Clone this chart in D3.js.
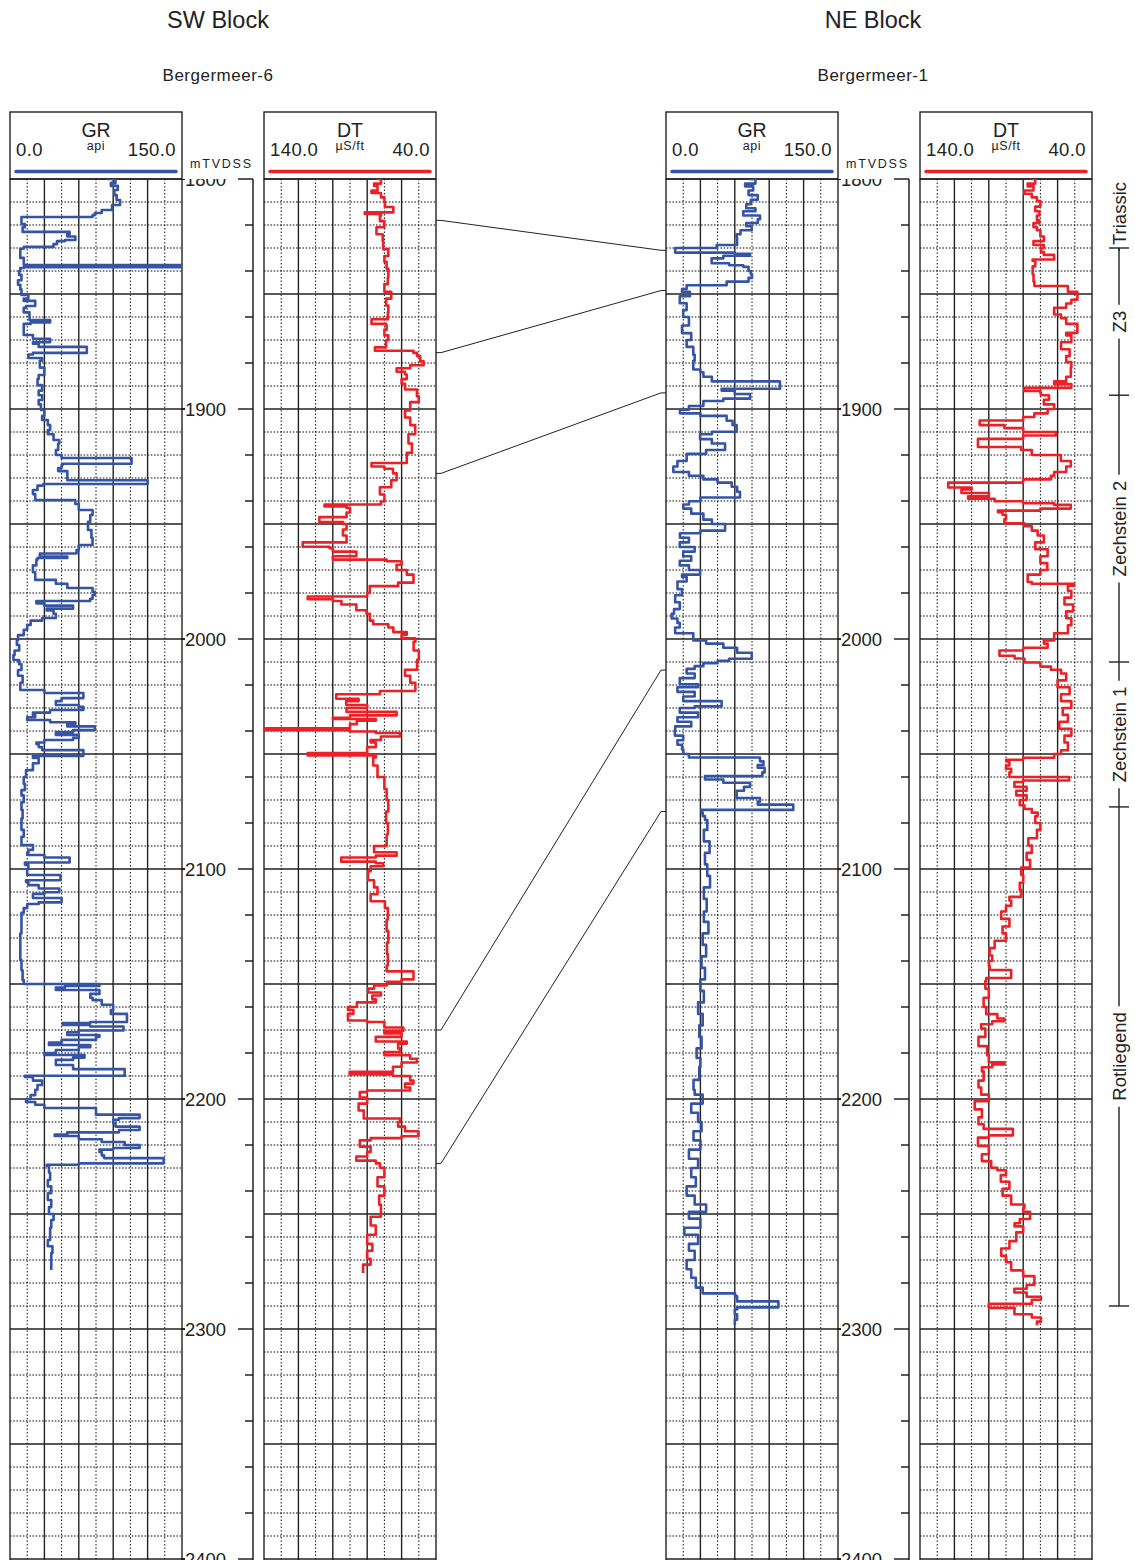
<!DOCTYPE html>
<html>
<head>
<meta charset="utf-8">
<script src="https://cdn.jsdelivr.net/npm/d3@7"></script>
<style>
  body { margin: 0; background: #fff; }
  svg { display: block; font-family: "Liberation Sans", Arial, sans-serif; }
</style>
</head>
<body>
<svg id="chart" width="1135" height="1560"></svg>
<script>
// ---- data: [depth mTVDSS, value] ----
var swGR = [[1800,85],[1801.7,92],[1803,88],[1804.8,94],[1807,91],[1809.1,93],[1811.3,96],[1813.5,89],[1814.8,80],[1815.7,74],[1816.5,72],[1817,10],[1819.6,10],[1821,13],[1823,11],[1823.9,52],[1825,50],[1826.5,57],[1827,48],[1828.3,41],[1829.5,38],[1830.3,12],[1832,9],[1834.3,9],[1836,12],[1837.4,12],[1837.6,150],[1838.4,150],[1838.7,12],[1840,9],[1841.7,8],[1844,10],[1846,7],[1848,9],[1850.4,10],[1852,16],[1853,12],[1855.2,22],[1856,14],[1858,12],[1861.3,17],[1862.4,35],[1863,18],[1865,12],[1867.8,12],[1869.5,20],[1871,35],[1871.6,20],[1873,25],[1874.8,67],[1875.6,67],[1876.3,20],[1877.8,16],[1879,28],[1882,26],[1885.2,30],[1887,25],[1889.6,24],[1892,28],[1894,25],[1896.1,28],[1898,25],[1900.4,27],[1903,30],[1904.8,28],[1907,33],[1909.1,35],[1911,33],[1913.5,38],[1915,43],[1917.8,42],[1920,40],[1921.3,45],[1923,106],[1923.8,106],[1924.3,46],[1925.7,45],[1927,42],[1928.7,50],[1931,50],[1931.8,120],[1932.6,120],[1933.3,29],[1935.2,24],[1937,20],[1939.6,22],[1941.3,57],[1943.9,60],[1946.1,72],[1949,70],[1952.6,68],[1956,71],[1959.1,72],[1961.3,60],[1962.8,58],[1963.3,26],[1964.2,26],[1964.8,50],[1965.5,24],[1968,23],[1971,20],[1974.3,22],[1976,40],[1977.8,50],[1979.5,72],[1980.9,74],[1982.5,72],[1983.5,70],[1984.5,23],[1985.5,30],[1986.8,55],[1987.6,32],[1989,38],[1990.9,40],[1992,28],[1993.9,18],[1996,15],[1998.3,12],[2000.5,7],[2002.6,6],[2005,8],[2007,4],[2009.1,3],[2011,8],[2013.5,10],[2016,7],[2019,11],[2022.2,9],[2023.5,30],[2025.7,64],[2027,45],[2028.7,40],[2029.5,60],[2030.9,64],[2032,35],[2033,20],[2034,22],[2035.2,15],[2036.2,35],[2037,57],[2038,50],[2039.6,74],[2040.5,55],[2041.7,40],[2043,60],[2043.9,55],[2045,30],[2045.7,23],[2047,25],[2048.3,28],[2050,64],[2050.8,64],[2051.7,20],[2054,25],[2057,20],[2060,14],[2063,12],[2065.7,13],[2068,10],[2071,12],[2074.3,10],[2078,11],[2083,10],[2086,12],[2089.6,10],[2091.7,20],[2093,16],[2093.9,15],[2095,30],[2096.5,52],[2097.2,52],[2098.2,13],[2100,16],[2102.6,15],[2104.2,44],[2104.9,44],[2105.6,14],[2107,16],[2108.5,25],[2110.1,43],[2110.8,30],[2112.6,20],[2114.5,45],[2115.2,25],[2117,15],[2119,12],[2122.2,10],[2128,10],[2134,9],[2139.6,9],[2144,10],[2148.3,11],[2150,12],[2150.9,78],[2151.5,48],[2152.6,40],[2153.2,78],[2154.3,78],[2156,70],[2157,72],[2159,80],[2161.3,90],[2163,88],[2166.5,102],[2167,70],[2167.8,46],[2168.5,70],[2169.5,99],[2170.2,99],[2171,60],[2172.2,50],[2173,78],[2174.3,75],[2175.5,45],[2176.5,34],[2177.5,70],[2178.7,60],[2180,40],[2180.9,30],[2182,65],[2183,55],[2185.2,40],[2187,55],[2189.3,100],[2189.9,100],[2190.4,13],[2192,20],[2193.9,28],[2196,24],[2198.3,22],[2200,18],[2201.3,14],[2202.5,22],[2203.9,30],[2205.7,75],[2206.8,75],[2208.3,113],[2209,95],[2210.4,90],[2212,92],[2213.5,113],[2214.5,95],[2215.5,50],[2216.1,39],[2217.5,60],[2218.7,80],[2220,100],[2221.3,113],[2222,90],[2223,78],[2224.5,80],[2225.7,82],[2227.5,134],[2228,134],[2228.6,60],[2229.1,32],[2232,34],[2235.2,35],[2238,33],[2241,36],[2243.9,33],[2247,36],[2250,34],[2252.6,38],[2256,36],[2261.3,35],[2264,33],[2267,37],[2270,36],[2274.3,36]];

var swDT = [[1800,75],[1802,72],[1803,76],[1805,74],[1806.1,77.5],[1808,72],[1810,70],[1812.2,69.7],[1813.7,64.8],[1814.5,64.8],[1815.2,81.4],[1816,72],[1818.3,72.6],[1821,70],[1824,74.6],[1827,71],[1830.5,70.7],[1833.5,67.7],[1836,70],[1839,68.7],[1842.7,67.7],[1845.7,68],[1849,70],[1852,66],[1855,69],[1858,67.7],[1861,68],[1862,77.5],[1863,77.5],[1863.6,69],[1865.5,68.7],[1868,70],[1870,67.7],[1873.2,69],[1874.7,75.5],[1875.6,53.1],[1877,51],[1879.3,49.2],[1881,47.2],[1882.3,55],[1883.8,62.9],[1885,58],[1887,57],[1889,60],[1891.5,58],[1893,51],[1894.5,51.1],[1897,50],[1900.6,55],[1903.7,58],[1907,55],[1911,52.1],[1915,56],[1919,54],[1922,57],[1923.5,57],[1925,77.5],[1926,70],[1928,65],[1931,62.9],[1934,66],[1937.2,72.6],[1940.2,70],[1941.5,72],[1941.8,104.8],[1942.4,104.8],[1943,92],[1945,90],[1947,92],[1948.5,107.8],[1949.2,107.8],[1950,94],[1952.4,92],[1955,94.1],[1958,92],[1959.2,117.5],[1959.9,117.5],[1960.5,101.9],[1962,100],[1964,86.3],[1965.5,100],[1966.2,68.7],[1967.7,60],[1970,62.9],[1972,57],[1974.5,53.1],[1975.5,53.1],[1977,62],[1979.9,78.5],[1981.5,80],[1982,114.6],[1982.7,114.6],[1983.5,100],[1985,95],[1987.5,86.3],[1989,80.4],[1992,78.5],[1993.6,76.5],[1995,67.7],[1997,64.8],[1998.2,57],[1999.7,60],[2001.2,52],[2005,53],[2009,50],[2013.4,51],[2016,58],[2019,55],[2022.6,52],[2024,72.6],[2025.3,98],[2026,98],[2027,85],[2028.7,92.2],[2030,80],[2031.7,92],[2033.2,62.9],[2034.3,90],[2034.8,100],[2035.5,75],[2037,86],[2038.8,90],[2039.1,140],[2039.7,140],[2040.2,90.2],[2040.9,75],[2042.4,60.9],[2043.9,72],[2045,78],[2047,75],[2049.6,80],[2050,114.6],[2050.6,114.6],[2051.5,75],[2055,76.5],[2060,74],[2065.2,70],[2070,68.7],[2075,67.7],[2080,69],[2085,68],[2090,68.7],[2092.7,76],[2094.2,62.9],[2095,75],[2095.7,95.1],[2096.8,95.1],[2097.5,75],[2098.8,70.7],[2101,78],[2104.9,79.5],[2108,76],[2111,74],[2114,78],[2117,69.7],[2122,68],[2127,68.7],[2132,67.7],[2137,68.5],[2142,68],[2144.5,68.7],[2145,53.1],[2148,53.1],[2149,60],[2150.6,68.7],[2152,76],[2153.7,79.5],[2155,72],[2156.7,77],[2158,75],[2160,86],[2161.3,91.2],[2163,88],[2165.9,91.2],[2166.5,80],[2168.9,70],[2170.4,59],[2171.5,70],[2173,60],[2175,75],[2176,57],[2178,62],[2179.6,60.9],[2181,70],[2182.5,55],[2184.1,51.1],[2186,60],[2188.2,65],[2188.7,90.2],[2189.3,90.2],[2190,65],[2192,55],[2193.3,53.1],[2195,58],[2196.3,55],[2197,80],[2199.4,84.3],[2202,80],[2205,85],[2208.5,82],[2210,60.9],[2212,62],[2214,58],[2216.2,50.2],[2217,60],[2218,78],[2220.7,84.3],[2223,78],[2225,80],[2226.8,86.3],[2228,75],[2229.9,72.6],[2234,70],[2238,74],[2242,70],[2246,73],[2251.2,72],[2255,78],[2259,75],[2263,80],[2266,77],[2269.5,80],[2272,78],[2275.6,82.4]];

var neGR = [[1800,73],[1802,78],[1803.2,69],[1805,76],[1807,72],[1809,80],[1811,74],[1812.7,70],[1814,78],[1815.9,67.4],[1817.5,82],[1819.1,80],[1820.5,70],[1822.3,74.7],[1824,65],[1825.5,61.6],[1828.7,62],[1830,44.2],[1831.2,8],[1832,8],[1832.5,60],[1833.4,73.3],[1834.5,50],[1836.6,39.8],[1837.5,55],[1838.2,67.4],[1840,72],[1841.4,74],[1843,75],[1844.6,72],[1846.2,52.9],[1847.8,18],[1849,14],[1851,20.9],[1854,12],[1857,18],[1860,15],[1863.7,20],[1867,14],[1870,22],[1873,18],[1876.4,23.8],[1879,25],[1882.8,23.8],[1884,30],[1886,32.6],[1888,40],[1890.5,99.4],[1891.2,99.4],[1892,48.5],[1893.5,60],[1895.5,73.3],[1896.5,50],[1898.7,32.6],[1900.3,20],[1901.9,12.2],[1903,30],[1905.1,52.9],[1907,58],[1909.9,61.6],[1911,40],[1913.1,29.7],[1915,40],[1917.8,51.5],[1919.5,35],[1922.6,18],[1925,10],[1927.4,6.4],[1929,20],[1930.6,32.6],[1932,45],[1933.8,57.3],[1936,62],[1938.5,64.5],[1940.1,30],[1941.5,20],[1943.3,15.1],[1945.5,22],[1948.1,32.6],[1950,40],[1952.9,51.5],[1954,30],[1956,12.2],[1958,20],[1960,12],[1962,25],[1964,15],[1966,22],[1968,12],[1970,20],[1972,29.7],[1973,14],[1975,18],[1978.3,10],[1981,14],[1984,8],[1987,12],[1989,7],[1991.1,4.9],[1993,10],[1995,12],[1997.5,8],[2000.6,23.8],[2002,35],[2003.8,50],[2006,62],[2008.6,74.7],[2009.5,55],[2010.5,45],[2011.8,32.6],[2013,25],[2015,18],[2017,25],[2019.7,12],[2021,28],[2023,10],[2025,25],[2027,15],[2029.3,48.5],[2030,25],[2032,12],[2034,28],[2036,10],[2038,22],[2040,8],[2042,7.8],[2044,15],[2046,10],[2048,14],[2050,15.1],[2051.5,20],[2053.2,82],[2054.8,85],[2056,80],[2058,86],[2059.6,84],[2061.1,34],[2062.5,50],[2064.3,73.3],[2066,68],[2069.1,61.6],[2070.7,82],[2072,80],[2073.7,111],[2074.3,111],[2075.5,31.1],[2077,32],[2078.7,34],[2083,36],[2088,33],[2093,38],[2098,34],[2103,36],[2108,38.4],[2113,33],[2118.5,35.5],[2123,33],[2128,37],[2133,32],[2138,35],[2143,31],[2148,34],[2153,30],[2158,33],[2163,28],[2168,32],[2173,29],[2178,31],[2182.2,26.7],[2186,30],[2191.7,29],[2196,24],[2198.1,25],[2202,32],[2206,22],[2210,28],[2214,31],[2218,24],[2222,30],[2226,20],[2230,28],[2234,22],[2238,26],[2242,18],[2245.9,25],[2249,35],[2252,20],[2256,30],[2259,16],[2263,28],[2266,20],[2270,25],[2274,18],[2277.7,22],[2282,26],[2284.5,32],[2285.7,60.2],[2288,62],[2289.8,98],[2290.6,98],[2291.5,62],[2293.6,60],[2296,62],[2298.4,60]];

var neDT = [[1800,75.4],[1802,73],[1803.2,77.4],[1805,74],[1806.4,79.3],[1808,75],[1809.6,72],[1812,70],[1814,73],[1815.9,70.6],[1818,72],[1819.1,70.6],[1821,74],[1822.3,72],[1825,70],[1827,68],[1828.7,74],[1830,68],[1831.8,69.7],[1833,68],[1835,62],[1835.6,74.5],[1838,73],[1841.4,74.5],[1844.6,74],[1846.5,73.5],[1847.8,54],[1849,54],[1851,48.5],[1852.5,48.5],[1854.1,52],[1856,55],[1858.9,62],[1860.5,58],[1863,55],[1866.9,48.5],[1868,55],[1871,52],[1874,58],[1877,53],[1879.6,55],[1882,52],[1886,52.3],[1888,55],[1889.2,62],[1890.8,52],[1892.2,79.3],[1893,70],[1894,69.7],[1896,65],[1898,68],[1900,62],[1901.9,65.8],[1903.5,73.5],[1905,80],[1906.5,105.3],[1907,105.3],[1908.3,90.9],[1910,80],[1911.5,61],[1913,80],[1915.8,106.3],[1916.5,106.3],[1917.8,81.2],[1920,75],[1922.6,58.1],[1925,52.3],[1927.4,55],[1929,62],[1930.6,63.9],[1932,80],[1933.5,123.6],[1934.1,123.6],[1935,110],[1936.5,115.9],[1938,100],[1939,112],[1940.1,96.6],[1941,80],[1941.7,62],[1943.3,52.3],[1944.2,70],[1944.9,94.7],[1946,92],[1948,90],[1949.7,90.9],[1951,79.3],[1952.9,75],[1955,71.6],[1958,68],[1961,73],[1964,65.8],[1967,70],[1970,66],[1972,70],[1975.2,77.4],[1976,75],[1976.8,50.4],[1979,54],[1982,52],[1985,56],[1988,51],[1991,55],[1994,52],[1997.5,54],[2000.6,62],[2002,68],[2003.8,65.8],[2005,80],[2006.6,93.8],[2007.3,93.8],[2008.5,85],[2010.2,79.3],[2012,70],[2013.4,63.9],[2015,58],[2018,55],[2021,60],[2024,53],[2027,58],[2030,52],[2033,57],[2036,54],[2039,59],[2042,52],[2045,56],[2048.4,54],[2050,58],[2051.6,62],[2052.5,80],[2053.2,89.9],[2055,88],[2056.4,90],[2058,87],[2060,88],[2060.7,53.3],[2061.5,53.3],[2062.2,80],[2064.3,85.1],[2066,78],[2068,84],[2070,78],[2072.3,82],[2073.9,79.3],[2075.5,75],[2077.1,71.6],[2080,73],[2083,70],[2086.6,72],[2089.8,77],[2093,75],[2096,78],[2099.4,76],[2102.5,81.2],[2106,80],[2109,82],[2112.1,81.2],[2113.7,88],[2116,87],[2118.5,90],[2121.7,92.8],[2125,88],[2128,92],[2131.2,90],[2134.4,96.6],[2137.6,99.5],[2140,98],[2142,100],[2143.9,99.5],[2146.5,87],[2147.4,87],[2148.7,101.5],[2152,102],[2156,100],[2160,103],[2163.1,101.5],[2165,95],[2166.2,90.9],[2167.5,98],[2169.4,104.4],[2173,102],[2177,106],[2181,101],[2184,100],[2185,90.9],[2186.2,98],[2188,104],[2192,103],[2195,106],[2198.1,104.4],[2201,100],[2204.5,108.2],[2208,104],[2211,106],[2213,103],[2214.8,86],[2215.8,86],[2216.8,100],[2220.4,106.3],[2224,100],[2227,104],[2229.9,98.6],[2231,95],[2233.1,90],[2236,93],[2239,88],[2242,92],[2245.9,87],[2247.5,79.3],[2249,80],[2252.2,76],[2254,82],[2255.4,85],[2258,80],[2261.8,84],[2265,88],[2268.2,92.8],[2271,90],[2274.5,87],[2277,80],[2280.9,73.5],[2282.5,78],[2284.1,85.1],[2286,78],[2287.3,69.7],[2289,75],[2290,100],[2290.8,100],[2291.5,85],[2293.6,85.1],[2295,75],[2296.8,69.7],[2298.4,72]];

// correlation picks (SW depth -> NE depth)
var swPicks = [1818, 1875.5, 1928, 2170, 2228];
var nePicks = [1831, 1848.5, 1893, 2013.5, 2075];

// stratigraphy column (NE well)
var formationNames = ["Triassic", "Z3", "Zechstein 2", "Zechstein 1", "Rotliegend"];
var formationTops  = [1800, 1830, 1894, 2010, 2073];
var formationBases = [1830, 1894, 2010, 2073, 2290];

var depthDomain = [1800, 2400];
var grDomain = [0, 150];
var dtDomain = [140, 40];

// ---- layout ----
var svg = d3.select("#chart");
var BLUE = "#3554a6", RED = "#ec2027", INK = "#222";
var trackW = 172, headTop = 112, trackTop = 179;
var y = d3.scaleLinear().domain(depthDomain).range([trackTop, 1559]);

var wells = [
  {block: "SW Block", name: "Bergermeer-6", cx: 218, grX: 10,  dtX: 264, gr: swGR, dt: swDT},
  {block: "NE Block", name: "Bergermeer-1", cx: 873, grX: 666, dtX: 920, gr: neGR, dt: neDT}
];

var clipId = 0;

function drawTrack(x0, data, domain, color, title, unit) {
  var x = d3.scaleLinear().domain(domain).range([x0, x0 + trackW]);
  var g = svg.append("g");

  // header box
  g.append("rect").attr("x", x0).attr("y", headTop).attr("width", trackW)
    .attr("height", trackTop - headTop).attr("fill", "none").attr("stroke", INK).attr("stroke-width", 1.4);
  g.append("text").attr("x", x0 + trackW / 2).attr("y", 137).attr("text-anchor", "middle")
    .attr("font-size", 19.5).attr("fill", INK).text(title);
  g.append("text").attr("x", x0 + trackW / 2).attr("y", 150).attr("text-anchor", "middle")
    .attr("font-size", 12.5).attr("letter-spacing", 0.6).attr("fill", INK).text(unit);
  g.append("text").attr("x", x0 + 6).attr("y", 156).attr("font-size", 18.5).attr("letter-spacing", 0.4)
    .attr("fill", INK).text(domain[0].toFixed(1));
  g.append("text").attr("x", x0 + trackW - 6).attr("y", 156).attr("text-anchor", "end")
    .attr("font-size", 18.5).attr("letter-spacing", 0.4).attr("fill", INK).text(domain[1].toFixed(1));
  g.append("line").attr("x1", x0 + 6).attr("x2", x0 + trackW - 6).attr("y1", 171.5).attr("y2", 171.5)
    .attr("stroke", color).attr("stroke-width", 3.5).attr("stroke-linecap", "round");

  // grid
  var bottom = 1566;
  var depths = d3.range(depthDomain[0], depthDomain[1] + 1, 10);
  g.selectAll(".hd").data(depths.filter(function(d) { return d % 50 !== 0; }))
    .enter().append("line")
    .attr("x1", x0).attr("x2", x0 + trackW).attr("y1", y).attr("y2", y)
    .attr("stroke", "#111").attr("stroke-width", 1.2).attr("stroke-dasharray", "1.6,1.6");
  var cols = d3.range(0, 11).map(function(i) { return domain[0] + i * (domain[1] - domain[0]) / 10; });
  g.selectAll(".vd").data(cols.filter(function(d, i) { return i % 2 === 1; }))
    .enter().append("line")
    .attr("x1", x).attr("x2", x).attr("y1", trackTop).attr("y2", bottom)
    .attr("stroke", "#111").attr("stroke-width", 1).attr("stroke-dasharray", "1.5,2");
  g.selectAll(".hm").data(depths.filter(function(d) { return d % 50 === 0; }))
    .enter().append("line")
    .attr("x1", x0).attr("x2", x0 + trackW).attr("y1", y).attr("y2", y)
    .attr("stroke", INK).attr("stroke-width", 1.4);
  g.selectAll(".vm").data(cols.filter(function(d, i) { return i % 2 === 0; }))
    .enter().append("line")
    .attr("x1", x).attr("x2", x).attr("y1", trackTop).attr("y2", bottom)
    .attr("stroke", INK).attr("stroke-width", 1.4);

  // curve (blocky log samples)
  var id = "clip" + (clipId++);
  svg.append("clipPath").attr("id", id).append("rect")
    .attr("x", x0).attr("y", trackTop).attr("width", trackW).attr("height", bottom - trackTop);
  var line = d3.line().curve(d3.curveStepAfter)
    .x(function(d) { return x(d[1]); }).y(function(d) { return y(d[0]); });
  g.append("path").datum(data).attr("clip-path", "url(#" + id + ")")
    .attr("d", line).attr("fill", "none").attr("stroke", color)
    .attr("stroke-width", 2.6).attr("stroke-linejoin", "round");
}

function drawDepth(x0) {
  var axisX = x0 + 71;
  var g = svg.append("g");
  g.append("text").attr("x", x0 + 8).attr("y", 168).attr("font-size", 12.5).attr("letter-spacing", 1.8)
    .attr("fill", INK).text("mTVDSS");
  g.append("line").attr("x1", axisX).attr("x2", axisX).attr("y1", trackTop).attr("y2", 1566)
    .attr("stroke", INK).attr("stroke-width", 1.5);
  var ticks = d3.range(depthDomain[0], depthDomain[1] + 1, 20);
  g.selectAll(".tk").data(ticks).enter().append("line")
    .attr("x1", function(d) { return axisX - (d % 100 === 0 ? 15 : 8); }).attr("x2", axisX)
    .attr("y1", y).attr("y2", y).attr("stroke", INK).attr("stroke-width", 1.5);

  // depth labels sit on the line, cut by the track top and page bottom
  var id = "clip" + (clipId++);
  svg.append("clipPath").attr("id", id).append("rect")
    .attr("x", x0 - 5).attr("y", trackTop).attr("width", 90).attr("height", 1400);
  var labels = g.append("g").attr("clip-path", "url(#" + id + ")");
  var major = d3.range(depthDomain[0], depthDomain[1] + 1, 100);
  labels.selectAll("text").data(major).enter().append("text")
    .attr("x", x0 + 3).attr("y", function(d) { return y(d) + 6.5; })
    .attr("font-size", 18.5).attr("fill", INK).text(function(d) { return d; });
  labels.selectAll(".mk").data(major).enter().append("line")
    .attr("x1", x0 - 1).attr("x2", x0 + 3).attr("y1", y).attr("y2", y)
    .attr("stroke", INK).attr("stroke-width", 2);
}

wells.forEach(function(w) {
  svg.append("text").attr("x", w.cx).attr("y", 28).attr("text-anchor", "middle")
    .attr("font-size", 23.5).attr("fill", INK).text(w.block);
  svg.append("text").attr("x", w.cx).attr("y", 81).attr("text-anchor", "middle")
    .attr("font-size", 17).attr("letter-spacing", 0.5).attr("fill", INK).text(w.name);
  drawTrack(w.grX, w.gr, grDomain, BLUE, "GR", "api");
  drawDepth(w.grX + trackW);
  drawTrack(w.dtX, w.dt, dtDomain, RED, "DT", "\u00b5S/ft");
});

// correlation lines
var xa = wells[0].dtX + trackW, xb = wells[1].grX;
svg.append("g").selectAll("path").data(d3.zip(swPicks, nePicks)).enter().append("path")
  .attr("d", function(p) {
    return "M" + xa + "," + y(p[0]) + "H" + (xa + 5) + "L" + (xb - 5) + "," + y(p[1]) + "H" + xb;
  })
  .attr("fill", "none").attr("stroke", INK).attr("stroke-width", 1);

// formation column
var fx = 1119;
var fg = svg.append("g");
formationNames.forEach(function(name, i) {
  var t = y(formationTops[i]), b = y(formationBases[i]), c = (t + b) / 2;
  var txt = fg.append("text").attr("transform", "translate(" + fx + "," + c + ") rotate(-90)")
    .attr("text-anchor", "middle").attr("dy", "0.36em").attr("font-size", 18.5)
    .attr("fill", INK).text(name);
  var half = txt.node().getComputedTextLength() / 2 + 6;
  if (c - half - t > 3) {
    fg.append("line").attr("x1", fx).attr("x2", fx).attr("y1", t).attr("y2", c - half)
      .attr("stroke", INK).attr("stroke-width", 1.4);
  }
  fg.append("line").attr("x1", fx).attr("x2", fx).attr("y1", c + half).attr("y2", b)
    .attr("stroke", INK).attr("stroke-width", 1.4);
  fg.append("line").attr("x1", fx - 10).attr("x2", fx + 10).attr("y1", b).attr("y2", b)
    .attr("stroke", INK).attr("stroke-width", 1.4);
});
</script>
</body>
</html>
